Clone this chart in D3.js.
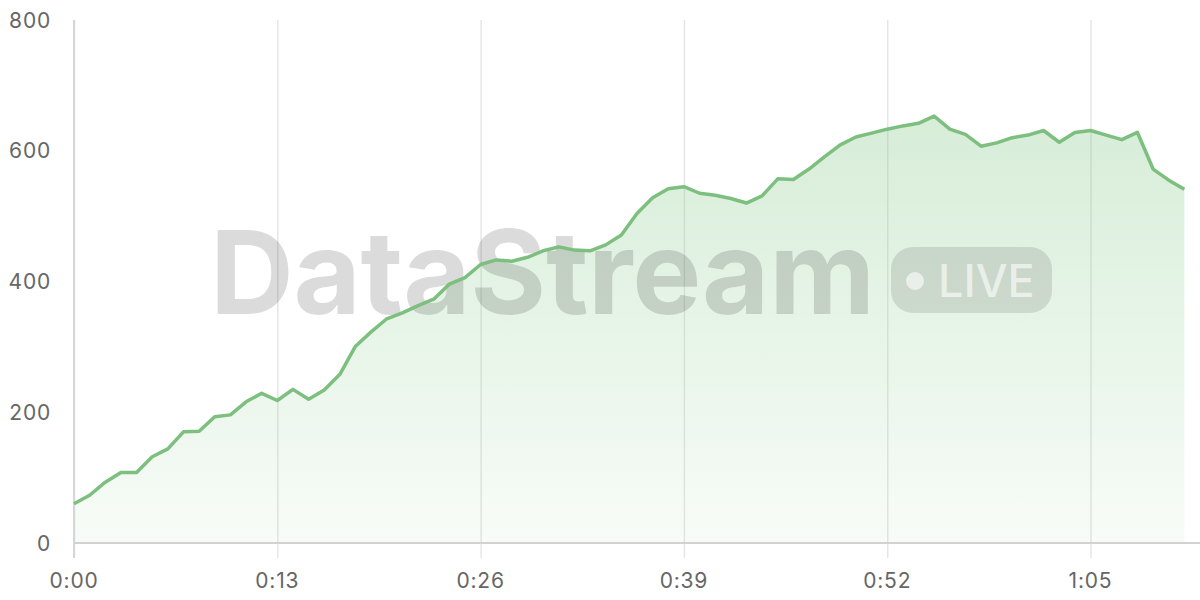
<!DOCTYPE html>
<html>
<head>
<meta charset="utf-8">
<script src="https://cdn.jsdelivr.net/npm/d3@7"></script>
<style>
  html, body { margin: 0; padding: 0; background: #fff; }
  svg { display: block; font-family: Inter, "Noto Sans", sans-serif; }
</style>
</head>
<body>
<svg id="chart" width="1200" height="600"></svg>
<script>
// seconds since start, one reading per second
var seconds = d3.range(0, 72)
var values = [60, 73, 93, 108, 108, 132, 144, 170, 171, 193,
  196, 216, 229, 218, 235, 220, 234, 258, 301, 323,
  343, 352, 363, 373, 396, 406, 426, 433, 431, 437,
  447, 453, 448, 447, 456, 471, 504, 528, 542, 545,
  535, 532, 527, 520, 531, 557, 556, 572, 591, 609,
  621, 627, 633, 638, 642, 653, 633, 625, 607, 612,
  620, 624, 631, 613, 628, 631, 624, 617, 628, 572,
  555, 541]
var xTicks = [0, 13, 26, 39, 52, 65]
var yTicks = [0, 200, 400, 600, 800]

var margin = {top: 20, right: 0, bottom: 57, left: 74},
  width = 1200 - margin.left - margin.right,
  height = 600 - margin.top - margin.bottom

var svg = d3.select('#chart')

var x_scale = d3.scaleLinear().domain([0, 72]).range([margin.left, margin.left + width])
var y_scale = d3.scaleLinear().domain([0, 800]).range([margin.top + height, margin.top])

function fmtTime(s) {
  return Math.floor(s / 60) + ':' + d3.format('02d')(s % 60)
}

// gradient for the area
var defs = svg.append('defs')
var grad = defs.append('linearGradient')
  .attr('id', 'areaFill')
  .attr('x1', 0).attr('y1', 0).attr('x2', 0).attr('y2', 1)
grad.append('stop').attr('offset', '0%').attr('stop-color', '#81c784').attr('stop-opacity', 0.32)
grad.append('stop').attr('offset', '100%').attr('stop-color', '#81c784').attr('stop-opacity', 0.06)

// grid lines
var y_grid = d3.axisLeft(y_scale).tickValues(yTicks).tickSize(-(width + 16)).tickFormat('')
svg.append('g')
  .attr('class', 'grid')
  .attr('transform', 'translate(' + (margin.left + width) + ',0)')
  .call(y_grid)
  .call(g => g.select('.domain').remove())
  .call(g => g.selectAll('line').attr('stroke', '#e8e8e8').attr('stroke-width', 1.5))

var x_grid = d3.axisBottom(x_scale).tickValues(xTicks).tickSize(-(height + 15)).tickFormat('')
svg.append('g')
  .attr('class', 'grid')
  .attr('transform', 'translate(0,' + (margin.top + height + 15) + ')')
  .call(x_grid)
  .call(g => g.select('.domain').remove())
  .call(g => g.selectAll('line').attr('stroke', '#e6e6e6').attr('stroke-width', 1.5))

// area under the line
var area = d3.area()
  .x((d, i) => x_scale(seconds[i]))
  .y0(y_scale(0))
  .y1(d => y_scale(d))

svg.append('path')
  .datum(values)
  .attr('d', area)
  .attr('fill', 'url(#areaFill)')

// axes lines
svg.append('line')
  .attr('x1', margin.left).attr('x2', margin.left)
  .attr('y1', margin.top).attr('y2', margin.top + height + 15)
  .attr('stroke', '#d6d6d6').attr('stroke-width', 2)
svg.append('line')
  .attr('x1', margin.left).attr('x2', margin.left + width)
  .attr('y1', y_scale(0)).attr('y2', y_scale(0))
  .attr('stroke', '#d2d2d2').attr('stroke-width', 2)

// watermark
var wm = svg.append('g').attr('class', 'watermark')
wm.append('text')
  .attr('x', 210)
  .attr('y', 314)
  .attr('font-size', 116)
  .attr('font-weight', 700)
  .attr('letter-spacing', -3)
  .attr('textLength', 662)
  .attr('fill', '#000')
  .attr('fill-opacity', 0.14)
  .text('DataStream')
wm.append('rect')
  .attr('x', 891).attr('y', 247)
  .attr('width', 161).attr('height', 66)
  .attr('rx', 22)
  .attr('fill', '#000')
  .attr('fill-opacity', 0.11)
wm.append('circle')
  .attr('cx', 915).attr('cy', 281).attr('r', 9)
  .attr('fill', '#fff').attr('fill-opacity', 0.6)
wm.append('text')
  .attr('x', 938).attr('y', 297)
  .attr('font-size', 45)
  .attr('font-weight', 500)
  .attr('fill', '#fff').attr('fill-opacity', 0.6)
  .text('LIVE')

// the line
var line = d3.line()
  .x((d, i) => x_scale(seconds[i]))
  .y(d => y_scale(d))

svg.append('path')
  .datum(values)
  .attr('d', line)
  .attr('fill', 'none')
  .attr('stroke', '#7cbf7e')
  .attr('stroke-width', 3.5)
  .attr('stroke-linejoin', 'round')

// tick labels
svg.append('g')
  .selectAll('text')
  .data(yTicks)
  .enter()
  .append('text')
  .attr('x', 51)
  .attr('y', d => y_scale(d))
  .attr('dy', '0.36em')
  .attr('text-anchor', 'end')
  .attr('font-size', 21)
  .attr('letter-spacing', 0.8)
  .attr('fill', '#666')
  .text(d => d)

svg.append('g')
  .selectAll('text')
  .data(xTicks)
  .enter()
  .append('text')
  .attr('x', d => x_scale(d))
  .attr('y', 588)
  .attr('text-anchor', 'middle')
  .attr('font-size', 21)
  .attr('letter-spacing', 0.8)
  .attr('fill', '#666')
  .text(d => fmtTime(d))
</script>
</body>
</html>
